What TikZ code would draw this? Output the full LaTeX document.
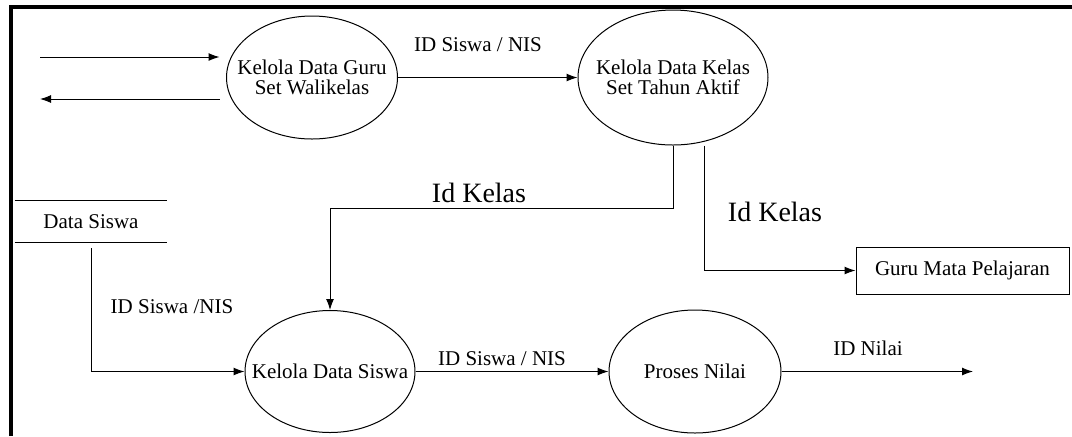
\documentclass[tikz,border=0pt]{standalone}
\usepackage{fontspec}
\setmainfont{Liberation Serif}
\usetikzlibrary{positioning,shapes.geometric,arrows.meta}

\begin{document}
\begin{tikzpicture}[
  x=0.5pt, y=-0.5pt,
  font=\fontsize{10.5}{10}\selectfont,
  proc/.style={ellipse, draw, line width=0.5pt, inner sep=0pt},
  ptext/.style={align=center, inner sep=0pt},
  ent/.style={rectangle, draw, line width=0.5pt, minimum width=106.5pt, minimum height=23.5pt},
  dstore/.style={rectangle, minimum width=76pt, minimum height=20.5pt},
  big/.style={font=\fontsize{14}{16}\selectfont},
  arrow/.style={-{Latex[length=5.5pt, width=4pt]}, line width=0.5pt}
]
  \useasboundingbox (0,0) rectangle (1072,436);
  % frame
  \draw[line width=2pt] (10.5,436) -- (10.5,7) -- (1072,7);

  % processes
  \node[proc, minimum width=85.5pt, minimum height=61.5pt] (guru) at (312,77.5) {};
  \node[ptext] (guru-t) at (guru) {Kelola Data Guru\\Set Walikelas};
  \node[proc, minimum width=95pt, minimum height=67.5pt] (kelas) at (673,77.5) {};
  \node[ptext] (kelas-t) at (kelas) {Kelola Data Kelas\\Set Tahun Aktif};
  \node[proc, minimum width=85pt, minimum height=61pt] (siswa) at (330,371.5) {};
  \node[ptext] (siswa-t) at (siswa) {Kelola Data Siswa};
  \node[proc, minimum width=86pt, minimum height=61.5pt] (nilai) at (695,371.5) {};
  \node[ptext] (nilai-t) at (nilai) {Proses Nilai};

  % data store and entity
  \node[dstore] (datasiswa) at (91,221.5) {Data Siswa};
  \draw[line width=0.5pt] (datasiswa.north west) -- (datasiswa.north east)
    (datasiswa.south west) -- (datasiswa.south east);
  \node[ent] (mapel) at (962.5,270.5) {Guru Mata Pelajaran};

  % flows
  \coordinate (ext-in) at (40,57);
  \coordinate (ext-out) at (40,99);
  \coordinate (ext-nilai) at (973,371.5);
  \draw[arrow, shorten >=3.25pt] (ext-in) -- (ext-in -| guru.west);
  \draw[arrow, shorten <=3.25pt] (ext-out -| guru.west) -- (ext-out);
  \draw[arrow] (guru) -- (kelas);
  \draw[arrow] (kelas.south) -- ++(0,63) -| (siswa.north);
  \draw[arrow] ([xshift=15.5pt]kelas.south) |- (mapel.west);
  \draw[arrow] ([yshift=-3pt]datasiswa.south) |- (siswa.west);
  \draw[arrow] (siswa) -- (nilai);
  \draw[arrow] (nilai) -- (ext-nilai);

  % flow labels
  \node (lbl-nis-a) at (478,45) {ID Siswa / NIS};
  \node[big] (lbl-kelas-a) at (479,193) {Id Kelas};
  \node[big] (lbl-kelas-b) at (775,212) {Id Kelas};
  \node (lbl-nis-b) at (172,307) {ID Siswa /NIS};
  \node (lbl-nis-c) at (502,359) {ID Siswa / NIS};
  \node (lbl-nilai) at (868,348) {ID Nilai};
\end{tikzpicture}
\end{document}
